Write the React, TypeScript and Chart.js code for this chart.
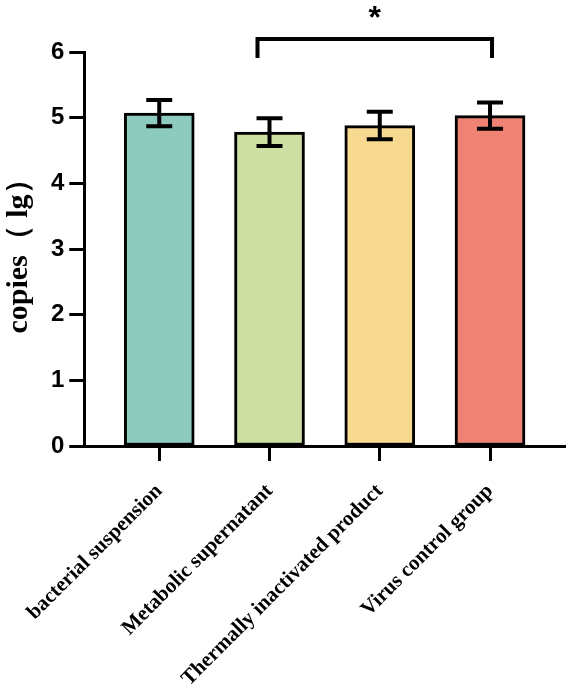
import React, { useEffect, useRef } from "react";
import { Chart, registerables } from "chart.js";

Chart.register(...registerables);

// Groups, means (log10 copies) and standard deviations
const groups = [
  "bacterial suspension",
  "Metabolic supernatant",
  "Thermally inactivated product",
  "Virus control group",
];
const means = [5.07, 4.78, 4.88, 5.03];
const errors = [0.2, 0.21, 0.21, 0.2];
const barColors = ["#8DCBBE", "#CDDFA3", "#F7D98F", "#EF8273"];
const yTicks = [0, 1, 2, 3, 4, 5, 6];
// significance bracket between two groups
const sigPair = [1, 3];
const sigLabel = "*";

const errorBarPlugin = {
  id: "errorBars",
  afterDatasetsDraw(chart: any) {
    const { ctx, scales } = chart;
    const xs = scales.x;
    const ys = scales.y;
    ctx.save();
    ctx.strokeStyle = "#000";
    ctx.lineWidth = 4;
    ctx.lineCap = "butt";
    means.forEach((m, i) => {
      const x = xs.getPixelForValue(i);
      const yTop = ys.getPixelForValue(m + errors[i]);
      const yBot = ys.getPixelForValue(m - errors[i]);
      const half = 13;
      ctx.beginPath();
      ctx.moveTo(x, yTop);
      ctx.lineTo(x, yBot);
      ctx.moveTo(x - half, yTop);
      ctx.lineTo(x + half, yTop);
      ctx.moveTo(x - half, yBot);
      ctx.lineTo(x + half, yBot);
      ctx.stroke();
    });
    ctx.restore();
  },
};

const bracketPlugin = {
  id: "sigBracket",
  afterDraw(chart: any) {
    const { ctx, scales, chartArea } = chart;
    const xs = scales.x;
    const x1 = xs.getPixelForValue(sigPair[0]) - 12;
    const x2 = xs.getPixelForValue(sigPair[1]) + 2;
    const yLine = chartArea.top - 13;
    const yLeg = chartArea.top + 6;
    ctx.save();
    ctx.strokeStyle = "#000";
    ctx.lineWidth = 4;
    ctx.lineJoin = "miter";
    ctx.beginPath();
    ctx.moveTo(x1, yLeg);
    ctx.lineTo(x1, yLine);
    ctx.lineTo(x2, yLine);
    ctx.lineTo(x2, yLeg);
    ctx.stroke();
    ctx.fillStyle = "#000";
    ctx.font = "bold 32px 'Liberation Sans', Arial, sans-serif";
    ctx.textAlign = "center";
    ctx.textBaseline = "middle";
    ctx.fillText(sigLabel, (x1 + x2) / 2, chartArea.top - 33);
    ctx.restore();
  },
};

export default function App() {
  const canvasRef = useRef<HTMLCanvasElement | null>(null);

  useEffect(() => {
    if (!canvasRef.current) return;
    const chart = new Chart(canvasRef.current, {
      type: "bar",
      data: {
        datasets: [
          {
            data: means.map((v, i) => ({ x: i, y: v })),
            backgroundColor: barColors,
            borderColor: "#000",
            borderWidth: 3,
            borderSkipped: false,
            barThickness: 70,
          },
        ],
      },
      options: {
        responsive: false,
        animation: false,
        events: [],
        layout: { padding: { top: 52, right: 5, left: 0, bottom: 0 } },
        plugins: {
          legend: { display: false },
          tooltip: { enabled: false },
        },
        scales: {
          x: {
            type: "linear",
            offset: false,
            min: -0.68,
            max: 3.68,
            afterBuildTicks: (axis: any) => {
              axis.ticks = groups.map((_, i) => ({ value: i }));
            },
            afterFit: (axis: any) => {
              axis.height = 242;
            },
            border: { display: true, color: "#000", width: 3 },
            grid: {
              offset: false,
              drawOnChartArea: false,
              drawTicks: true,
              tickLength: 15,
              tickWidth: 3,
              tickColor: "#000",
            },
            ticks: {
              autoSkip: false,
              minRotation: 45,
              maxRotation: 45,
              padding: 18,
              color: "#000",
              font: {
                family: "'Liberation Serif', 'Times New Roman', serif",
                size: 21,
                weight: "bold",
              },
              callback: (v: any) => groups[v] ?? "",
            },
          },
          y: {
            min: 0,
            max: 6,
            afterBuildTicks: (axis: any) => {
              axis.ticks = yTicks.map((v) => ({ value: v }));
            },
            afterFit: (axis: any) => {
              axis.width = 83;
            },
            border: { display: true, color: "#000", width: 3 },
            grid: {
              drawOnChartArea: false,
              drawTicks: true,
              tickLength: 15,
              tickWidth: 3,
              tickColor: "#000",
            },
            ticks: {
              padding: 5,
              color: "#000",
              font: {
                family: "'Liberation Sans', Arial, sans-serif",
                size: 24,
                weight: "bold",
              },
            },
            title: {
              display: true,
              text: "copies（ lg）",
              color: "#000",
              padding: { top: 0, bottom: 0 },
              font: {
                family: "'Liberation Serif', 'Times New Roman', serif",
                size: 30,
                weight: "bold",
              },
            },
          },
        },
      },
      plugins: [errorBarPlugin, bracketPlugin],
    });
    return () => chart.destroy();
  }, []);

  return (
    <div
      style={{
        position: "absolute",
        left: 0,
        top: 0,
        width: 570,
        height: 688,
        background: "#fff",
      }}
    >
      <canvas ref={canvasRef} width={570} height={688} />
    </div>
  );
}
